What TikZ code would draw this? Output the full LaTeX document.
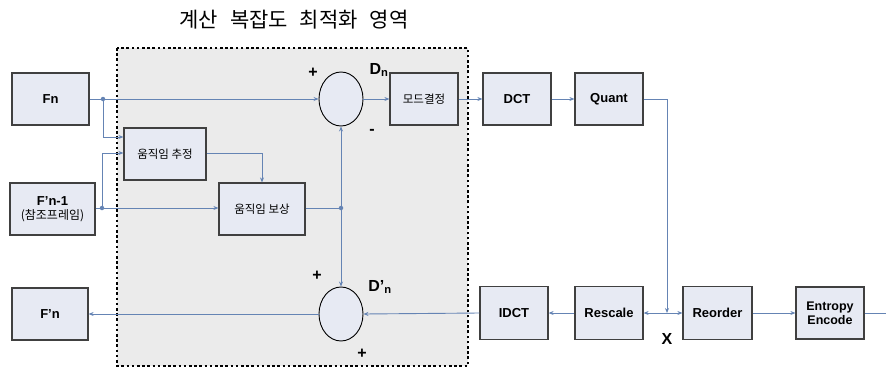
\documentclass[tikz,border=0pt]{standalone}
\usepackage{fontspec}
\setmainfont{Liberation Sans}
\newfontfamily\kr{Noto Sans CJK KR}
\usetikzlibrary{shapes.geometric,arrows.meta}
\definecolor{boxfill}{HTML}{E7EAF3}
\definecolor{boxline}{HTML}{404040}
\definecolor{wire}{HTML}{6584B4}
\definecolor{region}{HTML}{EBEBEB}
\tikzset{
  blk/.style={draw=boxline, line width=1.2pt, fill=boxfill, rectangle, inner sep=1pt, align=center, font=\bfseries\fontsize{13}{13}\selectfont},
  krblk/.style={blk, font=\kr\fontsize{11.5}{12}\selectfont},
  summer/.style={draw=black, line width=0.9pt, fill=boxfill, ellipse, minimum width=44pt, minimum height=54pt, inner sep=0pt},
  wr/.style={draw=wire, line width=0.9pt},
  ar/.style={wr, -{Stealth[length=5pt,width=4pt]}},
  jdot/.style={circle, fill=wire, inner sep=0pt, minimum size=4.5pt},
  sgn/.style={font=\bfseries\fontsize{16}{16}\selectfont},
  lbl/.style={font=\bfseries\fontsize{16}{16}\selectfont},
}
\begin{document}
\begin{tikzpicture}[x=1pt,y=-1pt]
\useasboundingbox (0,0) rectangle (886,370);
% region
\fill[region] (117,48) rectangle (468,366);
\draw[line width=2.6pt, dash pattern=on 2.6pt off 2.6pt] (117,48) rectangle (468,366);
\node[font=\kr\fontsize{21}{21}\selectfont] (title) at (294,20) {계산\hspace{12pt}복잡도\hspace{12pt}최적화\hspace{12pt}영역};
% boxes
\node[blk, minimum width=77pt, minimum height=52pt] (fn) at (50.5,99) {Fn};
\node[blk, minimum width=85pt, minimum height=52pt] (fn1) at (52.5,209) {F'n-1\\[1pt]{\kr\mdseries\fontsize{12}{12}\selectfont (참조프레임)}};
\node[blk, minimum width=76pt, minimum height=52pt] (fpn) at (50,314) {F'n};
\node[krblk, minimum width=82pt, minimum height=52pt] (me) at (165,154) {움직임 추정};
\node[krblk, minimum width=86pt, minimum height=52pt] (mc) at (262,209) {움직임 보상};
\node[krblk, minimum width=68pt, minimum height=52pt] (mode) at (424,99) {모드결정};
\node[blk, minimum width=68pt, minimum height=52pt] (dct) at (517,99) {DCT};
\node[blk, minimum width=68pt, minimum height=52pt] (quant) at (609,99) {Quant};
\node[blk, minimum width=68pt, minimum height=53pt] (idct) at (514,313) {IDCT};
\node[blk, minimum width=68pt, minimum height=53pt] (rescale) at (609,313) {Rescale};
\node[blk, minimum width=69pt, minimum height=53pt] (reorder) at (717.5,313) {Reorder};
\node[blk, minimum width=68pt, minimum height=52pt, font=\bfseries\fontsize{12.5}{14}\selectfont] (entropy) at (830,313) {Entropy\\Encode};
\node[summer] (s1) at (341,99) {};
\node[summer] (s2) at (341,314) {};
% junctions
\node[jdot] (d1) at (103,99) {};
\node[jdot] (d2) at (102,208) {};
\node[jdot] (d3) at (341,208) {};
\coordinate (q) at (667,99);
\coordinate (jx) at (667,313);
\coordinate (out) at (886,313);
% wires
\draw[ar] (fn.east) -- (s1.west);
\draw[ar] (d1) |- (me.west |- 0,137);
\draw[ar] (d2) |- (me.west |- 0,153);
\draw[ar] (fn1.east |- d2) -- (mc.west |- d2);
\draw[ar] (me.east |- 0,153) -| (mc.north);
\draw[wr] (mc.east |- d3) -- (d3);
\draw[ar] (d3) -- (s1.south);
\draw[ar] (d3) -- (s2.north);
\draw[ar] (s1.east) -- (mode.west);
\draw[ar] (mode.east) -- (dct.west);
\draw[ar] (dct.east) -- (quant.west);
\draw[wr] (quant.east) -- (q);
\draw[ar] (q) -- (jx);
\draw[ar] (jx) -- (rescale.east);
\draw[ar] (jx) -- (reorder.west);
\draw[ar] (reorder.east) -- (entropy.west);
\draw[wr] (entropy.east) -- (out);
\draw[ar] (rescale.west) -- (idct.east);
\draw[ar] (idct.west) -- (s2.east);
\draw[ar] (s2.west) -- (fpn.east);
% labels
\node[sgn] (p1) at (313,73) {+};
\node[lbl] (dn) at (379,70) {D\textsubscript{n}};
\node[sgn] (m1) at (372,132) {-};
\node[sgn] (p2) at (317,276) {+};
\node[lbl] (dpn) at (380,287) {D'\textsubscript{n}};
\node[sgn] (p3) at (362,354) {+};
\node[lbl] (xl) at (667,339) {X};
\end{tikzpicture}
\end{document}
